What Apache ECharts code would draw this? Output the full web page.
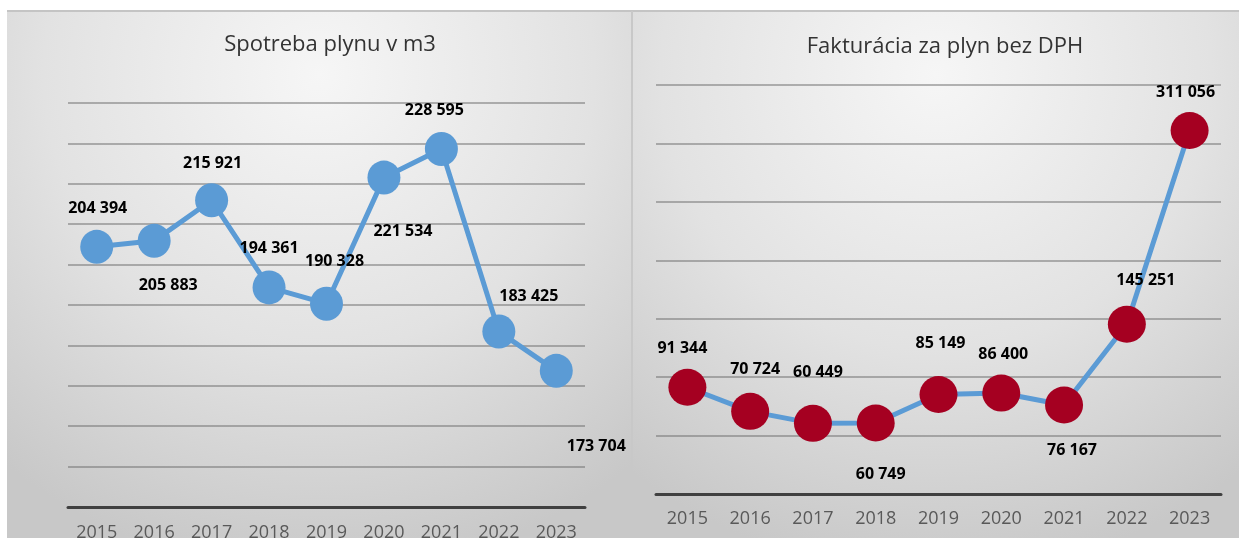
<!DOCTYPE html>
<html>
<head>
<meta charset="utf-8">
<title>Spotreba a fakturácia plynu</title>
<script src="https://cdn.jsdelivr.net/npm/echarts@6/dist/echarts.min.js"></script>
<style>
  html, body { margin: 0; padding: 0; background: #fff; }
  #chart { width: 1239px; height: 538px; }
</style>
</head>
<body>
<div id="chart"></div>
<script>
// data
const years = ['2015', '2016', '2017', '2018', '2019', '2020', '2021', '2022', '2023']
const gasM3 = [204394, 205883, 215921, 194361, 190328, 221534, 228595, 183425, 173704]
const billingNoVat = [91344, 70724, 60449, 60749, 85149, 86400, 76167, 145251, 311056]

// value axis ranges (no tick labels are shown in the reference)
const gasAxis = { min: 140000, max: 240000, interval: 10000 }
const billingAxis = { min: 0, max: 350000, interval: 50000 }

// where each data label sits relative to its point (px)
const gasLabelOffsets = [[1, -38], [14, 45], [1, -37], [0, -39], [8, -42], [19, 54], [-7, -39], [30, -35], [40, 76]]
const billingLabelOffsets = [[-5, -39], [5, -42], [5, -51], [5, 51], [2, -51], [2, -39], [8, 45], [19, -44], [-4, -38]]

const fmt = (v) => String(v).replace(/\B(?=(\d{3})+(?!\d))/g, ' ')

const chart = echarts.init(document.getElementById('chart'))

const panelFill = () => new echarts.graphic.RadialGradient(0.5, 0.12, 0.95, [
  { offset: 0, color: '#f6f6f6' },
  { offset: 0.55, color: '#e2e2e2' },
  { offset: 1, color: '#c8c8c8' }
])

const labelStyle = {
  show: true,
  position: 'inside',
  color: '#000',
  fontFamily: 'Open Sans',
  fontWeight: 'bold',
  fontSize: 16,
  formatter: (p) => fmt(p.value)
}

const axisCommon = {
  type: 'category',
  boundaryGap: true,
  axisTick: { show: false },
  axisLine: { lineStyle: { color: '#404040', width: 3 } }
}
const axisLabelStyle = { color: '#595959', fontFamily: 'Open Sans', fontSize: 18 }

const valueCommon = {
  type: 'value',
  axisLabel: { show: false },
  axisLine: { show: false },
  axisTick: { show: false },
  splitLine: { lineStyle: { color: 'rgba(110,110,110,0.5)', width: 2 } }
}

const titleStyle = { fontFamily: 'Open Sans', fontSize: 22, fontWeight: 'normal', color: '#333' }

chart.setOption({
  animation: false,
  graphic: [
    { type: 'rect', z: -10, shape: { x: 7, y: 11, width: 624, height: 527 }, style: { fill: panelFill() } },
    { type: 'rect', z: -10, shape: { x: 633, y: 11, width: 606, height: 527 }, style: { fill: panelFill() } },
    { type: 'line', z: -9, shape: { x1: 7, y1: 11, x2: 1239, y2: 11 }, style: { stroke: '#c4c4c4', lineWidth: 2 } },
    { type: 'line', z: -9, shape: { x1: 632, y1: 11, x2: 632, y2: 538 }, style: { stroke: '#c8c8c8', lineWidth: 2 } }
  ],
  title: [
    { text: 'Spotreba plynu v m3', left: 325, top: 29, textAlign: 'center', textStyle: titleStyle },
    { text: 'Fakturácia za plyn bez DPH', left: 940, top: 31, textAlign: 'center', textStyle: titleStyle }
  ],
  grid: [
    { left: 68, top: 103, width: 517, height: 404, containLabel: false, outerBoundsMode: 'none' },
    { left: 656, top: 85, width: 565, height: 409, containLabel: false, outerBoundsMode: 'none' }
  ],
  xAxis: [
    Object.assign({ gridIndex: 0, data: years, axisLabel: Object.assign({ margin: 17 }, axisLabelStyle) }, axisCommon),
    Object.assign({ gridIndex: 1, data: years, axisLabel: Object.assign({ margin: 16 }, axisLabelStyle) }, axisCommon)
  ],
  yAxis: [
    Object.assign({ gridIndex: 0 }, valueCommon, gasAxis),
    Object.assign({ gridIndex: 1 }, valueCommon, billingAxis)
  ],
  series: [
    {
      name: 'Spotreba plynu v m3',
      type: 'line',
      xAxisIndex: 0,
      yAxisIndex: 0,
      symbol: 'circle',
      symbolSize: [33, 34],
      lineStyle: { color: '#5B9BD5', width: 5 },
      itemStyle: { color: '#5B9BD5' },
      label: labelStyle,
      data: gasM3.map((v, i) => ({ value: v, label: { offset: gasLabelOffsets[i] } }))
    },
    {
      name: 'Fakturácia za plyn bez DPH',
      type: 'line',
      xAxisIndex: 1,
      yAxisIndex: 1,
      symbol: 'circle',
      symbolSize: [38, 37],
      lineStyle: { color: '#5B9BD5', width: 5 },
      itemStyle: { color: '#A50021' },
      label: labelStyle,
      data: billingNoVat.map((v, i) => ({ value: v, label: { offset: billingLabelOffsets[i] } }))
    }
  ]
})

window.addEventListener('resize', () => chart.resize())
</script>
</body>
</html>
